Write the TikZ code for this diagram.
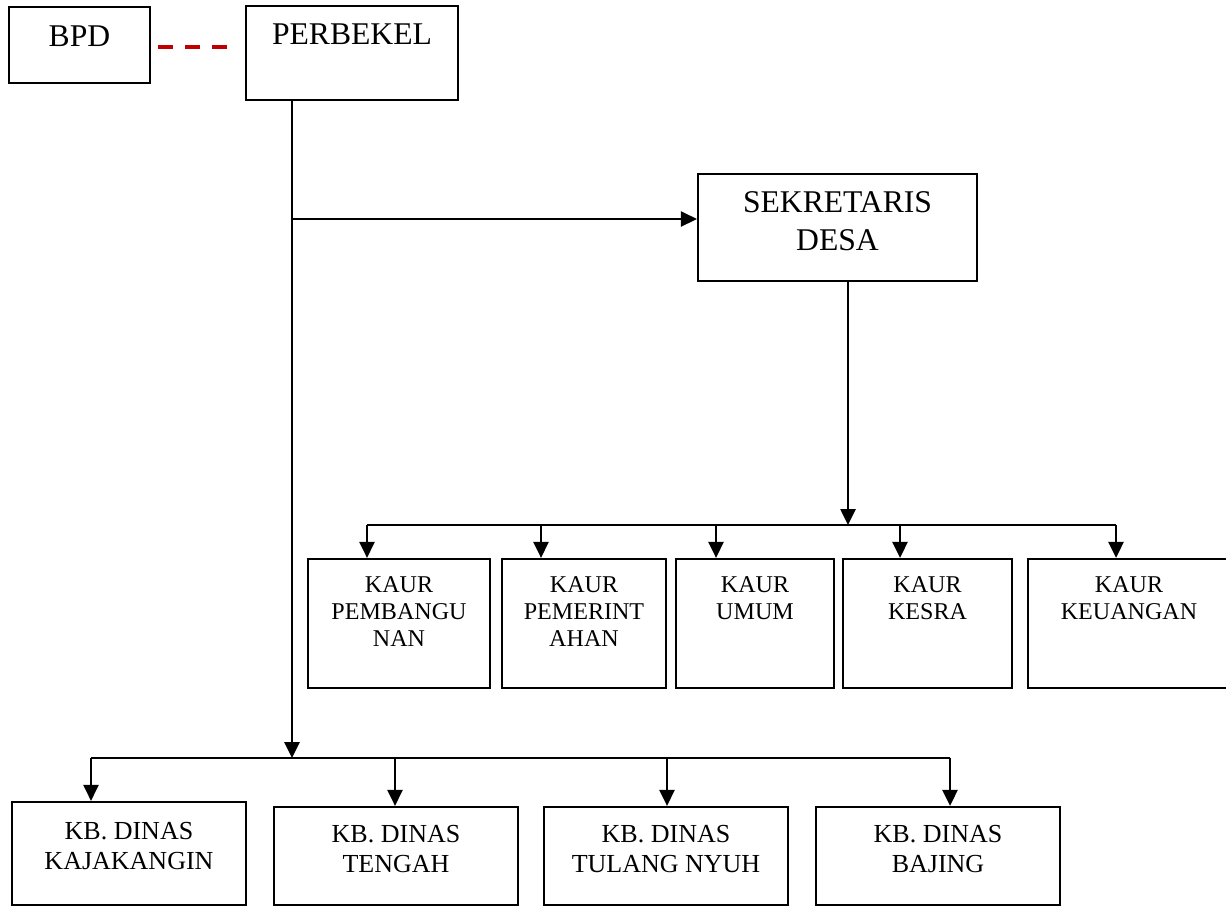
\documentclass[tikz,border=0pt]{standalone}
\usepackage{fontspec}
\setmainfont{Liberation Serif}
\usepackage{xcolor}
\usetikzlibrary{arrows.meta,positioning}

\definecolor{dashred}{HTML}{C00000}

\tikzset{
  box/.style={draw, line width=1.25pt, inner sep=0pt},
  bigtxt/.style={anchor=north, inner sep=0pt, align=center, font=\fontsize{18}{21.6}\selectfont},
  kaurtxt/.style={anchor=north, inner sep=0pt, align=center, font=\fontsize{13.7}{15.4}\selectfont},
  kbtxt/.style={anchor=north, inner sep=0pt, align=center, font=\fontsize{14.8}{17}\selectfont},
  arr/.style={line width=1.5pt, -{Triangle[length=0.32cm, width=0.3cm]}},
  bus/.style={line width=1.5pt},
  dashlink/.style={draw=dashred, line width=1.9pt, dash pattern=on 0.3cm off 0.24cm}
}

\begin{document}
\begin{tikzpicture}[x=0.02cm, y=-0.02cm]
  \useasboundingbox (0,0) rectangle (1226,906);

  % top
  \node[box, minimum width=2.82cm, minimum height=1.52cm] (bpd) at (79.5,45) {};
  \node[bigtxt] at ([yshift=-0.40cm]bpd.north) {BPD};
  \node[box, minimum width=4.24cm, minimum height=1.88cm] (perbekel) at (352,53) {};
  \node[bigtxt] at ([yshift=-0.38cm]perbekel.north) {PERBEKEL};
  \draw[dashlink, shorten <=0.14cm, shorten >=0.34cm] ([yshift=-0.04cm]bpd.east) -- ([yshift=-0.04cm]bpd.east -| perbekel.west);

  % sekretaris
  \node[box, minimum width=5.58cm, minimum height=2.14cm] (sekdes) at (837.5,227.5) {};
  \node[bigtxt] at ([yshift=-0.36cm]sekdes.north) {SEKRETARIS\\DESA};

  % kaur
  \node[box, minimum width=3.64cm, minimum height=2.58cm] (pemb) at (399,623.5) {};
  \node[kaurtxt] at ([yshift=-0.36cm]pemb.north) {KAUR\\PEMBANGU\\NAN};
  \node[box, minimum width=3.28cm, minimum height=2.58cm] (pemer) at (584,623.5) {};
  \node[kaurtxt] at ([yshift=-0.36cm]pemer.north) {KAUR\\PEMERINT\\AHAN};
  \node[box, minimum width=3.16cm, minimum height=2.58cm] (umum) at (755,623.5) {};
  \node[kaurtxt] at ([yshift=-0.36cm]umum.north) {KAUR\\UMUM};
  \node[box, minimum width=3.38cm, minimum height=2.58cm] (kesra) at (927.5,623.5) {};
  \node[kaurtxt] at ([yshift=-0.36cm]kesra.north) {KAUR\\KESRA};
  \node[box, minimum width=4.04cm, minimum height=2.58cm] (keu) at (1129,623.5) {};
  \node[kaurtxt] at ([yshift=-0.36cm]keu.north) {KAUR\\KEUANGAN};

  % kepala banjar dinas
  \node[box, minimum width=4.68cm, minimum height=2.06cm] (kaja) at (129,853.5) {};
  \node[kbtxt] at ([yshift=-0.42cm]kaja.north) {KB. DINAS\\KAJAKANGIN};
  \node[box, minimum width=4.88cm, minimum height=1.96cm] (tengah) at (396,856) {};
  \node[kbtxt] at ([yshift=-0.38cm]tengah.north) {KB. DINAS\\TENGAH};
  \node[box, minimum width=4.88cm, minimum height=1.96cm] (tulang) at (666,856) {};
  \node[kbtxt] at ([yshift=-0.38cm]tulang.north) {KB. DINAS\\TULANG NYUH};
  \node[box, minimum width=4.88cm, minimum height=1.96cm] (bajing) at (938,856) {};
  \node[kbtxt] at ([yshift=-0.38cm]bajing.north) {KB. DINAS\\BAJING};

  % connectors
  \coordinate (trunk) at (292,100);
  \coordinate (tosek) at (292,219);
  \coordinate (kbbus) at (292,758);
  \coordinate (sekout) at (848,281);
  \coordinate (kaurbus) at (848,525);

  \draw[arr] (trunk) -- (kbbus);
  \draw[arr] (tosek) -- (tosek -| sekdes.west);
  \draw[arr] (sekout) -- (kaurbus);

  \draw[bus] (367,525) -- (1116,525);
  \foreach \n/\x in {pemb/367, pemer/541, umum/716, kesra/900, keu/1116}
    \draw[arr] (\x,525) -- (\x,525 |- \n.north);

  \draw[bus] (91,758) -- (950,758);
  \foreach \n/\x in {kaja/91, tengah/395, tulang/667, bajing/950}
    \draw[arr] (\x,758) -- (\x,758 |- \n.north);
\end{tikzpicture}
\end{document}
